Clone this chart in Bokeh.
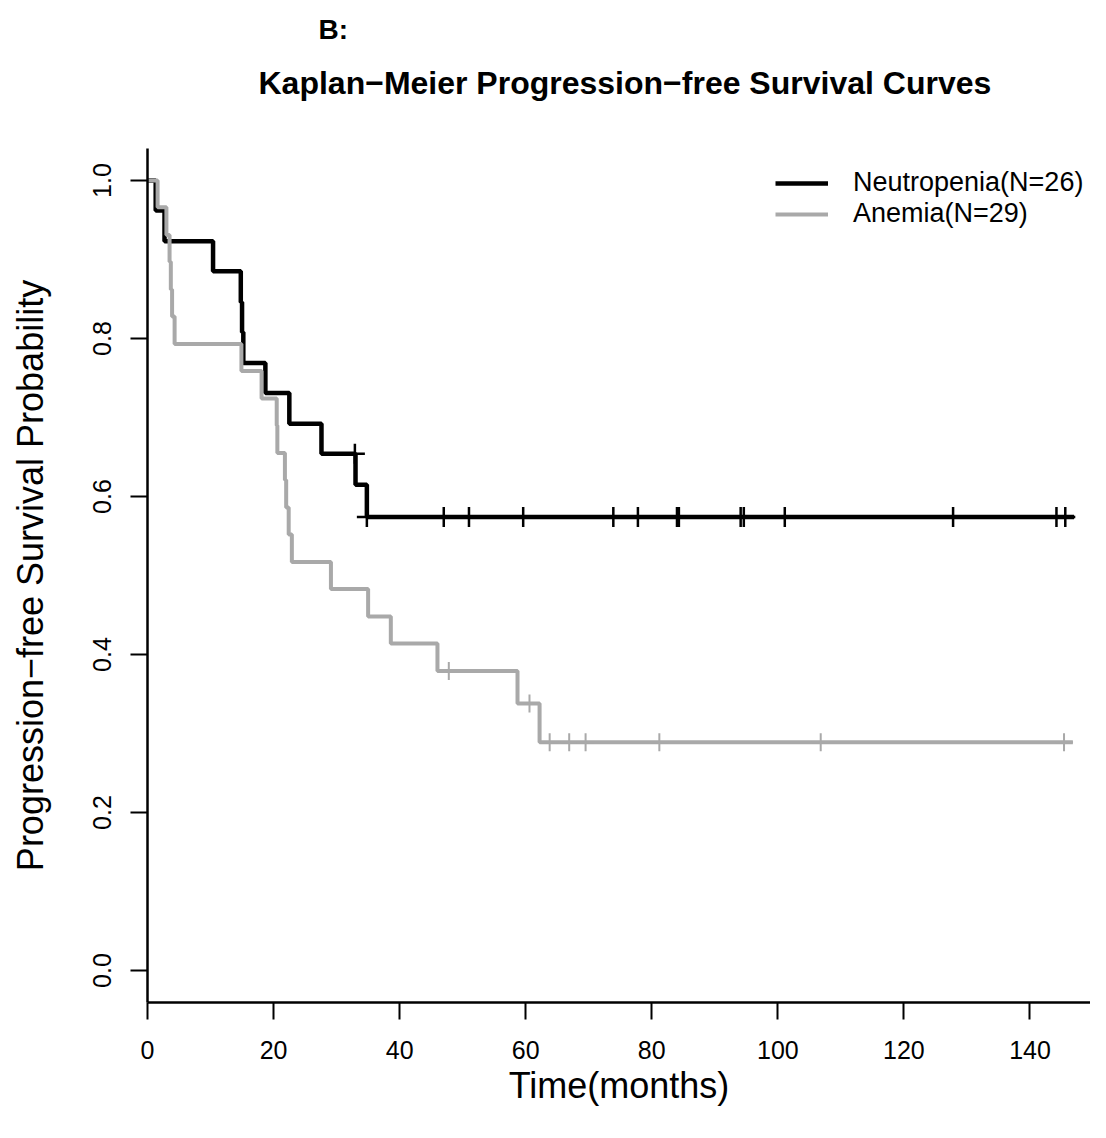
import numpy as np
from bokeh.plotting import figure
from bokeh.models import Range1d, FixedTicker, Title, Legend, LegendItem
from bokeh.embed import file_html
from bokeh.resources import INLINE

# ---------------- data ----------------
neutro_times = [0, 1.3, 2.7, 10.4, 14.8, 15.0, 15.2, 18.7, 22.5, 27.6, 33.0, 34.8, 147.0]
neutro_surv = [1.0, 0.962, 0.923, 0.885, 0.846, 0.808, 0.769, 0.731, 0.692, 0.654, 0.615, 0.574, 0.574]
neutro_censor = [32.9, 34.8, 47.0, 51.0, 59.6, 73.9, 77.8, 84.0, 84.3, 94.1, 94.6, 101.1, 127.8, 144.2, 145.6]

anemia_times = [0, 1.6, 3.0, 3.5, 3.7, 3.9, 4.3, 14.9, 18.1, 20.5, 20.6, 21.8, 22.0, 22.4, 22.9,
                29.1, 35.0, 38.6, 46.0, 58.7, 62.2, 146.8]
anemia_surv = [1.0, 0.966, 0.931, 0.897, 0.862, 0.828, 0.793, 0.759, 0.724, 0.690, 0.655, 0.621, 0.586,
               0.552, 0.517, 0.483, 0.448, 0.414, 0.379, 0.338, 0.289, 0.289]
anemia_censor = [47.8, 60.6, 63.8, 66.9, 69.5, 81.2, 106.8, 145.4]

x_ticks = [0, 20, 40, 60, 80, 100, 120, 140]
y_ticks = [0.0, 0.2, 0.4, 0.6, 0.8, 1.0]
y_tick_labels = ["0.0", "0.2", "0.4", "0.6", "0.8", "1.0"]
series_names = ["Neutropenia(N=26)", "Anemia(N=29)"]
title_text = "Kaplan\u2212Meier Progression\u2212free Survival Curves"
panel_text = "B:"
x_label = "Time(months)"
y_label = "Progression\u2212free Survival Probability"


def level_at(times, surv, t):
    idx = np.searchsorted(np.asarray(times), t, side="right") - 1
    return [surv[i] for i in idx]


FONT = "Liberation Sans"
BLACK = "#000000"
GRAY = "#a9a9a9"

p = figure(width=1090, height=1122, output_backend="svg", toolbar_location=None,
           x_range=Range1d(0, 149.6), y_range=Range1d(-0.0405, 1.0405),
           min_border_left=147, min_border_right=0, min_border_top=148, min_border_bottom=120)
p.outline_line_color = None
p.xgrid.visible = False
p.ygrid.visible = False
p.background_fill_color = "white"
p.border_fill_color = "white"

# titles: "B:" outermost, main title next to the plot
p.title.text = panel_text
p.title.align = "left"
p.title.offset = 171
p.title.text_font = FONT
p.title.text_font_size = "28px"
p.title.text_font_style = "bold"
p.title.text_color = BLACK
p.title.standoff = 0
p.title.padding = (0, 0, 0, 18)
mt = Title(text=title_text, align="left", offset=111, text_font=FONT, text_font_size="32px",
           text_font_style="bold", text_color=BLACK, standoff=0, padding=(0, 0, 0, 48))
p.add_layout(mt, "above")

# axes
for ax in (p.xaxis[0], p.yaxis[0]):
    ax.axis_line_width = 2.5
    ax.axis_line_color = BLACK
    ax.major_tick_line_width = 2
    ax.major_tick_line_color = BLACK
    ax.major_tick_out = 17
    ax.major_tick_in = 0
    ax.minor_tick_line_color = None
    ax.major_label_text_font = FONT
    ax.major_label_text_font_size = "25px"
    ax.major_label_text_color = BLACK
    ax.axis_label_text_font = FONT
    ax.axis_label_text_font_size = "36px"
    ax.axis_label_text_font_style = "normal"
    ax.axis_label_text_color = BLACK

p.xaxis.ticker = FixedTicker(ticks=x_ticks)
p.yaxis.ticker = FixedTicker(ticks=y_ticks)
p.yaxis.major_label_overrides = {t: s for t, s in zip(y_ticks, y_tick_labels)}
p.yaxis.major_label_orientation = "vertical"
p.xaxis.major_label_standoff = 21
p.yaxis.major_label_standoff = 19
p.xaxis.axis_label_standoff = 3
p.yaxis.axis_label_standoff = 40
p.xaxis.axis_label = x_label
p.yaxis.axis_label = y_label

# curves
r1 = p.step(neutro_times, neutro_surv, mode="after", line_color=BLACK, line_width=4.5)
p.scatter(neutro_censor, level_at(neutro_times, neutro_surv, neutro_censor), marker="cross",
          size=20, line_color=BLACK, line_width=2.5)
r2 = p.step(anemia_times, anemia_surv, mode="after", line_color=GRAY, line_width=4)
p.scatter(anemia_censor, level_at(anemia_times, anemia_surv, anemia_censor), marker="cross",
          size=18, line_color=GRAY, line_width=2)

legend = Legend(items=[LegendItem(label=series_names[0], renderers=[r1]),
                       LegendItem(label=series_names[1], renderers=[r2])],
                location=(628, 773), orientation="vertical",
                glyph_width=53, glyph_height=30, label_standoff=25, spacing=0, padding=0, margin=0,
                label_text_font=FONT, label_text_font_size="27px", label_text_color=BLACK,
                label_height=30, border_line_color=None, background_fill_alpha=0)
p.add_layout(legend, "center")

open("out.html", "w").write(file_html(p, INLINE))
